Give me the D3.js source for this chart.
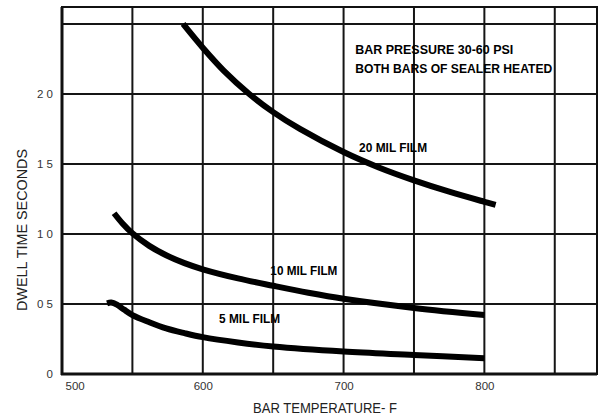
<!DOCTYPE html>
<html>
<head>
<meta charset="utf-8">
<script src="https://cdn.jsdelivr.net/npm/d3@7"></script>
<style>
  html, body { margin: 0; padding: 0; background: #fff; }
  svg { display: block; }
  text { font-family: "Liberation Sans", Arial, Helvetica, sans-serif; }
</style>
</head>
<body>
<svg id="chart" width="603" height="419"></svg>
<script>
// ---- data ----
const xTicks = [500, 600, 700, 800];
const yTicks = [0, 0.5, 1.0, 1.5, 2.0];
const yTickLabels = ["0", "0 5", "1 0", "1 5", "2 0"];
const xGrid = [550, 600, 650, 700, 750, 800, 850];
const yGrid = [0.5, 1.0, 1.5, 2.0, 2.5];

const temps20 = [586, 600, 615, 633, 650, 669, 700, 725, 750, 775, 800, 808];
const dwell20 = [2.50, 2.33, 2.165, 2.00, 1.87, 1.75, 1.585, 1.475, 1.383, 1.302, 1.23, 1.208];
const temps10 = [537, 543, 550, 562, 574, 587, 600, 625, 650, 675, 700, 750, 800];
const dwell10 = [1.148, 1.075, 1.005, 0.915, 0.848, 0.792, 0.748, 0.683, 0.630, 0.580, 0.537, 0.472, 0.421];
const temps5 = [532, 535, 539, 544, 550, 562, 574, 587, 600, 625, 650, 700, 750, 800];
const dwell5 = [0.505, 0.51, 0.495, 0.46, 0.421, 0.37, 0.326, 0.292, 0.263, 0.225, 0.196, 0.160, 0.136, 0.112];

const seriesNames = ["20 MIL FILM", "10 MIL FILM", "5 MIL FILM"];
const noteLines = ["BAR PRESSURE 30-60 PSI", "BOTH BARS OF SEALER HEATED"];
const xTitle = "BAR TEMPERATURE- F";
const yTitle = "DWELL TIME SECONDS";

// ---- layout ----
const svg = d3.select("#chart");
const L = 62, R = 597, T = 7, B = 374;
const x = d3.scaleLinear().domain([500, 880]).range([L, R]);
const y = d3.scaleLinear().domain([0, 2.621]).range([B, T]);

// grid
svg.append("g").selectAll("line").data(xGrid).join("line")
  .attr("x1", d => x(d)).attr("x2", d => x(d))
  .attr("y1", T).attr("y2", B)
  .attr("stroke", "#151515").attr("stroke-width", 2);
svg.append("g").selectAll("line").data(yGrid).join("line")
  .attr("x1", L).attr("x2", R)
  .attr("y1", d => y(d)).attr("y2", d => y(d))
  .attr("stroke", "#151515").attr("stroke-width", 2);

// frame
svg.append("rect").attr("x", L).attr("y", T).attr("width", R - L).attr("height", B - T)
  .attr("fill", "none").attr("stroke", "#111").attr("stroke-width", 2);
svg.append("line").attr("x1", L).attr("x2", L).attr("y1", T).attr("y2", B + 1)
  .attr("stroke", "#111").attr("stroke-width", 3);
svg.append("line").attr("x1", L - 1).attr("x2", R).attr("y1", B).attr("y2", B)
  .attr("stroke", "#111").attr("stroke-width", 3);

// axes labels
const xAxis = d3.axisBottom(x).tickValues(xTicks).tickSize(0).tickPadding(8);
const gx = svg.append("g").attr("transform", `translate(0,${B})`).call(xAxis);
gx.select(".domain").remove();
gx.selectAll("text").attr("font-size", 11.5).attr("fill", "#333")
  .attr("font-family", "Liberation Sans, Arial, sans-serif")
  .attr("text-anchor", d => d === 500 ? "start" : "middle")
  .attr("dx", d => d === 500 ? 3 : 0);

const yAxis = d3.axisLeft(y).tickValues(yTicks).tickSize(0).tickPadding(9)
  .tickFormat((d, i) => yTickLabels[i]);
const gy = svg.append("g").attr("transform", `translate(${L},0)`).call(yAxis);
gy.select(".domain").remove();
gy.selectAll("text").attr("font-size", 11.5).attr("fill", "#333")
  .attr("font-family", "Liberation Sans, Arial, sans-serif");

// titles
svg.append("text").attr("x", 325).attr("y", 413)
  .attr("text-anchor", "middle").attr("font-size", 14).attr("fill", "#222")
  .attr("textLength", 144).attr("lengthAdjust", "spacingAndGlyphs")
  .text(xTitle);
svg.append("text").attr("transform", "translate(27,230) rotate(-90)")
  .attr("text-anchor", "middle").attr("font-size", 14).attr("fill", "#222")
  .attr("textLength", 162).attr("lengthAdjust", "spacingAndGlyphs")
  .text(yTitle);

// curves
const line = d3.line().x(d => x(d[0])).y(d => y(d[1])).curve(d3.curveCatmullRom.alpha(0.5));
const series = [
  d3.zip(temps20, dwell20),
  d3.zip(temps10, dwell10),
  d3.zip(temps5, dwell5)
];
svg.append("g").selectAll("path").data(series).join("path")
  .attr("d", line).attr("fill", "none").attr("stroke", "#000")
  .attr("stroke-width", 6).attr("stroke-linecap", "butt");

// annotations
function note(txt, tx, vy, len) {
  svg.append("text").attr("x", x(tx)).attr("y", y(vy)).attr("dy", "0.36em")
    .attr("font-size", 12).attr("font-weight", "bold").attr("fill", "#000")
    .attr("textLength", len).attr("lengthAdjust", "spacingAndGlyphs")
    .text(txt);
}
note(noteLines[0], 708.3, 2.314, 158);
note(noteLines[1], 708.3, 2.179, 197);
note(seriesNames[0], 711, 1.617, 68);
note(seriesNames[1], 648, 0.738, 67);
note(seriesNames[2], 611.6, 0.392, 61);
</script>
</body>
</html>
